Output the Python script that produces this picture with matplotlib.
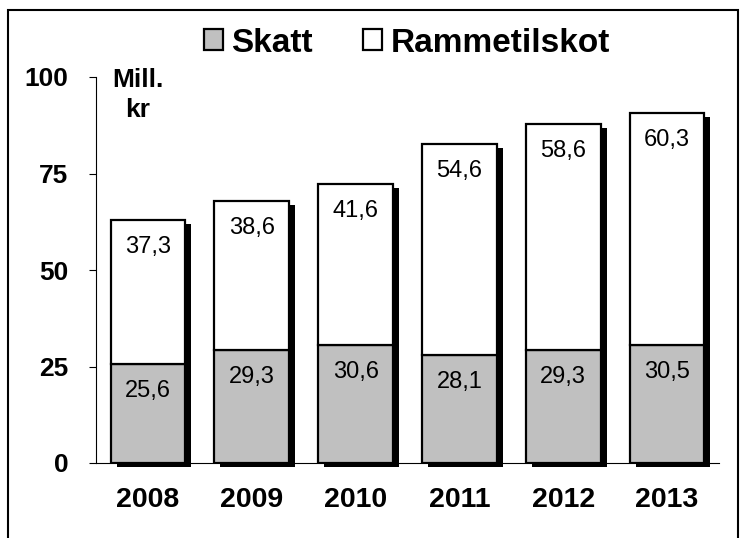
import matplotlib.pyplot as plt
import numpy as np
from matplotlib.patches import Rectangle

years = ["2008", "2009", "2010", "2011", "2012", "2013"]
skatt = [25.6, 29.3, 30.6, 28.1, 29.3, 30.5]
rammetilskot = [37.3, 38.6, 41.6, 54.6, 58.6, 60.3]
skatt_labels = ["25,6", "29,3", "30,6", "28,1", "29,3", "30,5"]
ramme_labels = ["37,3", "38,6", "41,6", "54,6", "58,6", "60,3"]

plt.rcParams['font.family'] = ['Liberation Sans', 'DejaVu Sans']

W, H = 745, 538
fig = plt.figure(figsize=(W / 100, H / 100), dpi=100)
ax = fig.add_axes([96 / W, 1 - 463 / H, (719 - 96) / W, (463 - 77) / H])

x = np.arange(len(years))
totals = np.array(skatt) + np.array(rammetilskot)
width = 0.72

# drop shadow behind each stacked bar
ax.bar(x + 0.058, totals, width, bottom=-1.05, color='black', zorder=1, clip_on=False)
ax.bar(x, skatt, width, color='#c0c0c0', edgecolor='black', linewidth=1.6, zorder=2,
       label='Skatt')
ax.bar(x, rammetilskot, width, bottom=skatt, color='white', edgecolor='black',
       linewidth=1.6, zorder=2, label='Rammetilskot')

for i in range(len(years)):
    ax.text(x[i], skatt[i] - 7, skatt_labels[i], ha='center', va='center', fontsize=17, zorder=3)
    ax.text(x[i], totals[i] - 7, ramme_labels[i], ha='center', va='center', fontsize=17, zorder=3)

ax.set_xlim(-0.5, 5.5)
ax.set_ylim(0, 100)
ax.set_yticks([0, 25, 50, 75, 100])
ax.set_xticks(x)
ax.set_xticklabels(years, fontsize=20.5, fontweight='bold')
ax.tick_params(axis='x', length=0, pad=17)
ax.tick_params(axis='y', length=5, width=0.8, pad=15, labelsize=19)
for lab in ax.get_yticklabels():
    lab.set_fontweight('bold')
ax.spines['top'].set_visible(False)
ax.spines['right'].set_visible(False)
ax.spines['left'].set_linewidth(0.8)
ax.spines['bottom'].set_linewidth(0.8)

fig.text(138 / W, 1 - 95 / H, "Mill.\nkr", ha='center', va='center', fontsize=19,
         fontweight='bold', linespacing=1.3)

fig.legend(loc='center', bbox_to_anchor=(407 / W, 1 - 43 / H), ncol=2, frameon=False,
           prop={'size': 24, 'weight': 'bold'}, handlelength=0.57, handleheight=0.57,
           handletextpad=0.25, columnspacing=1.5)

fig.patches.append(Rectangle((8 / W, -0.1), (738 - 8) / W, 1.1 - 10 / H, transform=fig.transFigure,
                             fill=False, edgecolor='black', linewidth=1.5))

fig.savefig('out.png', dpi=100)
